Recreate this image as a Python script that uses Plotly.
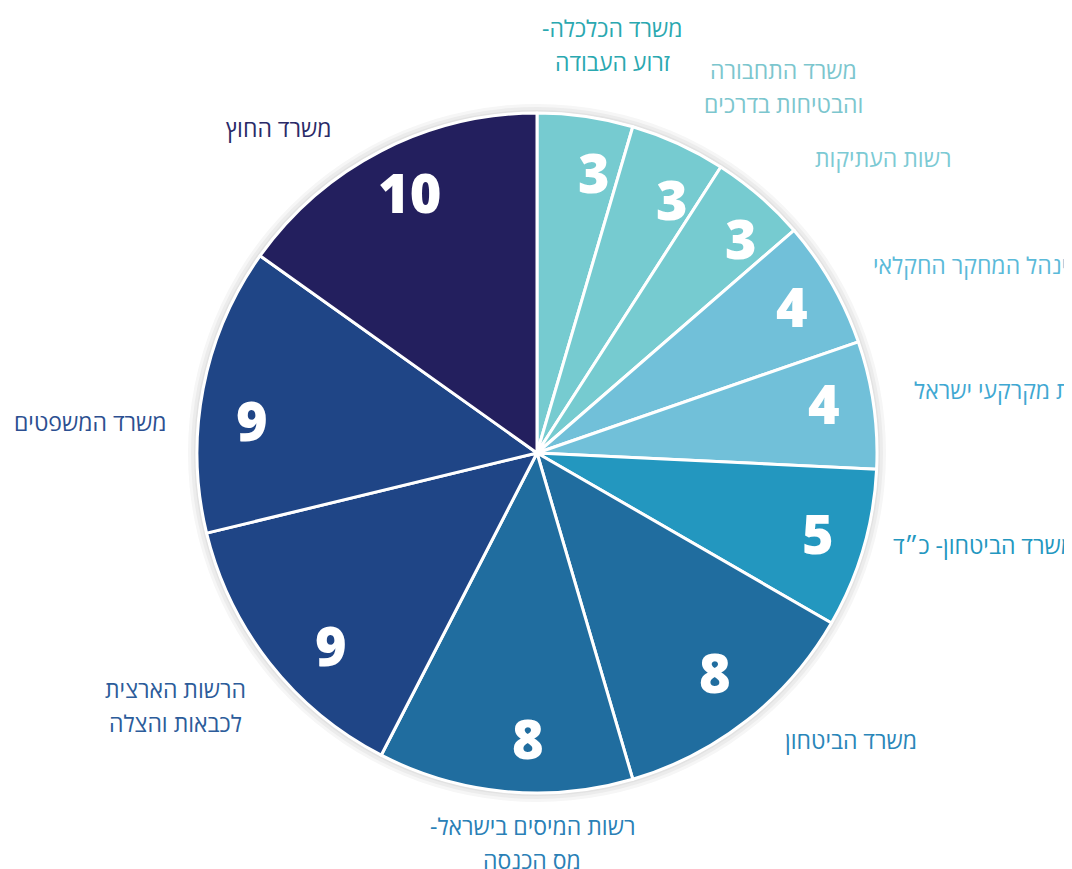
import math
import plotly.graph_objects as go

# ---- data ----
categories = [
    "משרד הכלכלה- זרוע העבודה",
    "משרד התחבורה והבטיחות בדרכים",
    "רשות העתיקות",
    "מינהל המחקר החקלאי",
    "רשות מקרקעי ישראל",
    "משרד הביטחון- כ״ד",
    "משרד הביטחון",
    "רשות המיסים בישראל- מס הכנסה",
    "הרשות הארצית לכבאות והצלה",
    "משרד המשפטים",
    "משרד החוץ",
]
values = [3, 3, 3, 4, 4, 5, 8, 8, 9, 9, 10]

slice_colors = ["#76CBD0", "#76CBD0", "#76CBD0", "#71C0D9", "#71C0D9", "#2397BF",
                "#206D9F", "#206D9F", "#1F4586", "#1F4586", "#231F5E"]
label_colors = ["#2AA8B0", "#7CC6CE", "#7CCAD4", "#5BBAD9", "#3FA8D2", "#2397BF",
                "#2A86B9", "#2A80B6", "#2C5C9A", "#2C4F91", "#2A2A68"]

RLM = "\u200f"
# label lines (display)
label_lines = [
    ["משרד הכלכלה-" + RLM, "זרוע העבודה"],
    ["משרד התחבורה", "והבטיחות בדרכים"],
    ["רשות העתיקות"],
    ["מינהל המחקר החקלאי"],
    ["רשות מקרקעי ישראל"],
    ["משרד הביטחון- כ״ד"],
    ["משרד הביטחון"],
    ["רשות המיסים בישראל-" + RLM, "מס הכנסה"],
    ["הרשות הארצית", "לכבאות והצלה"],
    ["משרד המשפטים"],
    ["משרד החוץ"],
]

# ---- layout (page pixels, page has an 8px body margin) ----
OFF = 8
W, H = 1072 - OFF, 869 - OFF
CX, CY, R = 537 - OFF, 453 - OFF, 340
label_pos = [
    (612, 28, "center"),
    (783, 70, "center"),
    (883, 158, "center"),
    (871, 265, "left"),
    (912, 390, "left"),
    (891, 545, "left"),
    (851, 740, "center"),
    (532, 826, "center"),
    (175, 689, "center"),
    (90, 422, "center"),
    (278, 128, "center"),
]
LINE_GAP = 34
# placement of value numbers: angular nudge (deg) and radius (px) per slice
num_nudge_deg = [3.3, 3.5, 2.6, 0.0, -1.7, -0.5, -0.9, -3.7, -4.8, -4.3, 1.3]
num_radius = [287, 288, 296, 294, 291, 292, 282, 285, 282, 287, 290]


def dom(rad):
    return dict(x=[(CX - rad) / W, (CX + rad) / W],
                y=[(H - CY - rad) / H, (H - CY + rad) / H])


fig = go.Figure()
# soft shadow / white rim behind pie
for rad, col in [(349, "#f6f6f6"), (346, "#ececec"), (343, "#e2e2e2"), (341, "#ffffff")]:
    fig.add_trace(go.Pie(values=[1], marker=dict(colors=[col], line=dict(width=0)),
                         textinfo="none", hoverinfo="skip", showlegend=False,
                         sort=False, domain=dom(rad)))

fig.add_trace(go.Pie(
    labels=categories,
    values=values,
    sort=False,
    direction="clockwise",
    rotation=0,
    marker=dict(colors=slice_colors, line=dict(color="white", width=3)),
    textinfo="none",
    hoverinfo="label+value",
    showlegend=False,
    domain=dom(R),
))

annotations = []
# value numbers placed near each slice's mid-angle
total = sum(values)
cum = 0
for v, nd, rr in zip(values, num_nudge_deg, num_radius):
    mid = (cum + v / 2) / total * 2 * math.pi + math.radians(nd)
    cum += v
    px = CX + rr * math.sin(mid)
    py = CY - rr * math.cos(mid)
    annotations.append(dict(
        text=str(v), x=px / W, y=1 - py / H, xref="paper", yref="paper",
        xanchor="center", yanchor="middle", showarrow=False,
        font=dict(family="Open Sans, Roboto, sans-serif", size=54, color="white", weight=800),
    ))

for lines, (x, y, anchor), col in zip(label_lines, label_pos, label_colors):
    for i, line in enumerate(lines):
        annotations.append(dict(
            text=line, x=(x - OFF) / W, y=1 - (y - OFF + i * LINE_GAP) / H,
            xref="paper", yref="paper", xanchor=anchor, yanchor="middle",
            showarrow=False,
            font=dict(family="Open Sans, Liberation Sans, DejaVu Sans, sans-serif", size=23, color=col),
        ))

fig.update_layout(
    width=W, height=H,
    margin=dict(l=0, r=0, t=0, b=0),
    paper_bgcolor="white",
    plot_bgcolor="white",
    annotations=annotations,
)

fig.write_html("out.html")
